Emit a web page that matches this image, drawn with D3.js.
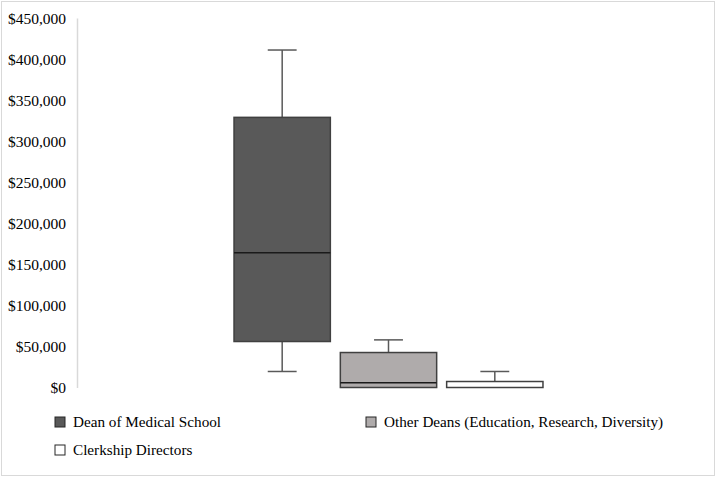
<html>
<head>
<style>
body{margin:0;background:#fff;}
text{font-family:"Liberation Serif","Times New Roman",serif;fill:#000;}
</style>
</head>
<body>
<svg id="graph" width="716" height="478"></svg>
<script src="https://d3js.org/d3.v7.min.js"></script>
<script>
// box plot values
var categories = ['Dean of Medical School','Other Deans (Education, Research, Diversity)','Clerkship Directors'];
var minVals = [19500, 0, 0];
var q1Vals = [56000, 0, 0];
var medianVals = [164000, 5700, 0];
var q3Vals = [329000, 42600, 7300];
var maxVals = [411000, 58000, 19500];
var tickVals = [0,50000,100000,150000,200000,250000,300000,350000,400000,450000];
var fills = ['#595959','#afabab','#ffffff'];

var svg = d3.select('#graph');

// outer frame
svg.append('rect')
	.attr('x',1.5).attr('y',1.5)
	.attr('width',713).attr('height',474)
	.attr('fill','#fff')
	.attr('stroke','#d9d9d9')
	.attr('stroke-width',1);

var y = d3.scaleLinear().domain([0,450000]).range([387.5,18]);
var x = d3.scaleBand().domain(categories).range([77,700]).paddingInner(0.094).paddingOuter(1.477);

var yAxis = svg.append('g')
	.attr('transform','translate(77,0)')
	.call(d3.axisLeft(y).tickValues(tickVals).tickSize(0).tickPadding(11).tickFormat(d3.format('$,')));
yAxis.select('.domain').attr('stroke','#d9d9d9').attr('stroke-width',1.5);
yAxis.selectAll('text').style('font-size','15.5px').attr('dy','0.33em');

var boxes = categories.map(function(c,i){
	return {cat:c,min:minVals[i],q1:q1Vals[i],med:medianVals[i],q3:q3Vals[i],max:maxVals[i],fill:fills[i]};
});

var g = svg.selectAll('g.box')
	.data(boxes)
	.enter()
	.append('g')
	.attr('class','box');

var bw = x.bandwidth();
var cap = bw*0.3;

// whiskers
g.filter(function(d){return d.max>d.q3;})
	.append('line')
	.attr('x1',function(d){return x(d.cat)+bw/2;})
	.attr('x2',function(d){return x(d.cat)+bw/2;})
	.attr('y1',function(d){return y(d.max);})
	.attr('y2',function(d){return y(d.q3);})
	.attr('stroke','#595959').attr('stroke-width',1.5);
g.filter(function(d){return d.max>d.q3;})
	.append('line')
	.attr('x1',function(d){return x(d.cat)+bw/2-cap/2;})
	.attr('x2',function(d){return x(d.cat)+bw/2+cap/2;})
	.attr('y1',function(d){return y(d.max);})
	.attr('y2',function(d){return y(d.max);})
	.attr('stroke','#595959').attr('stroke-width',1.5);
g.filter(function(d){return d.min<d.q1;})
	.append('line')
	.attr('x1',function(d){return x(d.cat)+bw/2;})
	.attr('x2',function(d){return x(d.cat)+bw/2;})
	.attr('y1',function(d){return y(d.min);})
	.attr('y2',function(d){return y(d.q1);})
	.attr('stroke','#595959').attr('stroke-width',1.5);
g.filter(function(d){return d.min<d.q1;})
	.append('line')
	.attr('x1',function(d){return x(d.cat)+bw/2-cap/2;})
	.attr('x2',function(d){return x(d.cat)+bw/2+cap/2;})
	.attr('y1',function(d){return y(d.min);})
	.attr('y2',function(d){return y(d.min);})
	.attr('stroke','#595959').attr('stroke-width',1.5);

// boxes
g.append('rect')
	.attr('x',function(d){return x(d.cat);})
	.attr('y',function(d){return y(d.q3);})
	.attr('width',bw)
	.attr('height',function(d){return y(d.q1)-y(d.q3);})
	.attr('fill',function(d){return d.fill;})
	.attr('stroke','#404040')
	.attr('stroke-width',1.5);

// median
g.filter(function(d){return d.med>d.q1;})
	.append('line')
	.attr('x1',function(d){return x(d.cat);})
	.attr('x2',function(d){return x(d.cat)+bw;})
	.attr('y1',function(d){return y(d.med);})
	.attr('y2',function(d){return y(d.med);})
	.attr('stroke','#1a1a1a').attr('stroke-width',1.5);

// legend
var legendPos = [[55,417],[366,417],[55,445]];
var leg = svg.selectAll('g.legend')
	.data(boxes)
	.enter()
	.append('g')
	.attr('class','legend')
	.attr('transform',function(d,i){return 'translate('+legendPos[i][0]+','+legendPos[i][1]+')';});
leg.append('rect')
	.attr('width',10).attr('height',10)
	.attr('fill',function(d){return d.fill;})
	.attr('stroke','#262626').attr('stroke-width',1);
leg.append('text')
	.attr('x',18).attr('y',5)
	.attr('dy','0.35em')
	.style('font-size','15.2px')
	.text(function(d){return d.cat;});
</script>
</body>
</html>
